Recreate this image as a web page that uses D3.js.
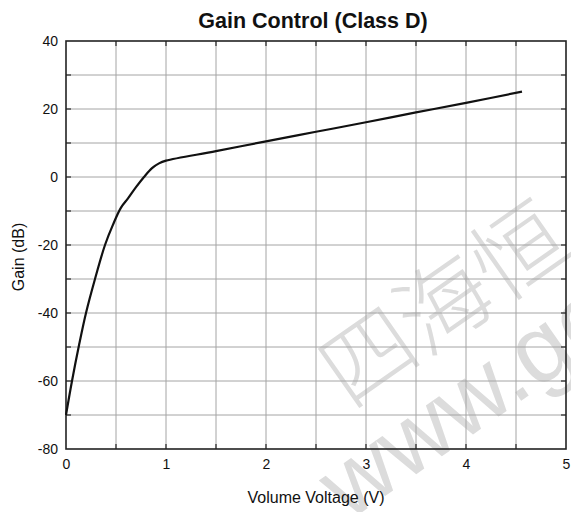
<!DOCTYPE html>
<html><head><meta charset="utf-8">
<script src="https://cdn.jsdelivr.net/npm/d3@7"></script>
<style>body{margin:0;background:#fff;}svg{display:block;}</style>
</head><body>
<svg id="c" width="571" height="512"></svg>
<script>
const title = "Gain Control (Class D)";
const xLabel = "Volume Voltage (V)";
const yLabel = "Gain (dB)";
const xTicks = [0, 1, 2, 3, 4, 5];
const yTicks = [-80, -60, -40, -20, 0, 20, 40];
const xGrid = [0.5, 1, 1.5, 2, 2.5, 3, 3.5, 4, 4.5];
const yGrid = [-70, -60, -50, -40, -30, -20, -10, 0, 10, 20, 30];
const voltage = [0, 0.06, 0.13, 0.2, 0.29, 0.39, 0.47, 0.55, 0.62, 0.7, 0.78, 0.86, 0.93, 1.0, 1.5, 2, 2.5, 3, 3.5, 4, 4.56];
const gainDb  = [-70, -60, -49.5, -40, -30, -20, -14, -9, -6.3, -3, 0, 2.6, 4, 4.8, 7.6, 10.5, 13.3, 16.1, 19.0, 21.8, 25.1];
const watermark = ["四", "海", "恒"];
const watermarkUrl = "www.go";

const svg = d3.select("#c");
const x = d3.scaleLinear().domain([0, 5]).range([66, 566]);
const y = d3.scaleLinear().domain([-80, 40]).range([449, 41]);
const font = "'Liberation Sans', Arial, sans-serif";

// watermark
const wm = svg.append("g").attr("fill", "#dcdcdc").style("font-family", "'Noto Sans CJK SC', sans-serif");
wm.append("text").attr("transform", "translate(350,410) rotate(-35)")
  .style("font-size", "92px").style("font-weight", "300").text(watermark.join(""));
wm.append("text").attr("transform", "translate(348,522) rotate(-35)")
  .style("font-family", font).style("font-size", "96px").text(watermarkUrl);

// grid
const g = svg.append("g");
g.selectAll(".gx").data(xGrid).join("line")
  .attr("x1", d => x(d)).attr("x2", d => x(d)).attr("y1", y(40)).attr("y2", y(-80))
  .attr("stroke", "#a4a4a4").attr("stroke-width", 1);
g.selectAll(".gy").data(yGrid).join("line")
  .attr("y1", d => y(d)).attr("y2", d => y(d)).attr("x1", x(0)).attr("x2", x(5))
  .attr("stroke", "#a4a4a4").attr("stroke-width", 1);

// ticks inward on all four sides
const tl = 5;
const tk = svg.append("g").attr("stroke", "#333").attr("stroke-width", 1.3);
xGrid.forEach(d => {
  tk.append("line").attr("x1", x(d)).attr("x2", x(d)).attr("y1", y(-80)).attr("y2", y(-80) - tl);
  tk.append("line").attr("x1", x(d)).attr("x2", x(d)).attr("y1", y(40)).attr("y2", y(40) + tl);
});
yGrid.forEach(d => {
  tk.append("line").attr("y1", y(d)).attr("y2", y(d)).attr("x1", x(0)).attr("x2", x(0) + tl);
  tk.append("line").attr("y1", y(d)).attr("y2", y(d)).attr("x1", x(5)).attr("x2", x(5) - tl);
});

// frame
svg.append("rect").attr("x", x(0)).attr("y", y(40)).attr("width", x(5) - x(0)).attr("height", y(-80) - y(40))
  .attr("fill", "none").attr("stroke", "#222").attr("stroke-width", 1.6);

// axes labels via d3 axes (no lines)
const xAxis = svg.append("g").attr("transform", `translate(0,${y(-80)})`)
  .call(d3.axisBottom(x).tickValues(xTicks).tickSize(0).tickPadding(10).tickFormat(d => String(d)));
xAxis.select(".domain").remove();
xAxis.selectAll("text").style("font-family", font).style("font-size", "14px").attr("fill", "#111");

const yAxis = svg.append("g").attr("transform", `translate(${x(0)},0)`)
  .call(d3.axisLeft(y).tickValues(yTicks).tickSize(0).tickPadding(8).tickFormat(d => String(d)));
yAxis.select(".domain").remove();
yAxis.selectAll("text").style("font-family", font).style("font-size", "14px").attr("fill", "#111");

// curve
const line = d3.line().x((d, i) => x(voltage[i])).y(d => y(d)).curve(d3.curveCatmullRom.alpha(0.5));
svg.append("path").attr("d", line(gainDb)).attr("fill", "none").attr("stroke", "#111").attr("stroke-width", 2.2);

// titles
svg.append("text").attr("x", 313).attr("y", 28).attr("text-anchor", "middle")
  .style("font-family", font).style("font-size", "21.5px").style("font-weight", "bold").attr("fill", "#111").text(title);
svg.append("text").attr("x", 316).attr("y", 503).attr("text-anchor", "middle")
  .style("font-family", font).style("font-size", "16px").attr("fill", "#111").text(xLabel);
svg.append("text").attr("transform", "translate(24,257) rotate(-90)").attr("text-anchor", "middle")
  .style("font-family", font).style("font-size", "16px").attr("fill", "#111").text(yLabel);
</script>
</body></html>
